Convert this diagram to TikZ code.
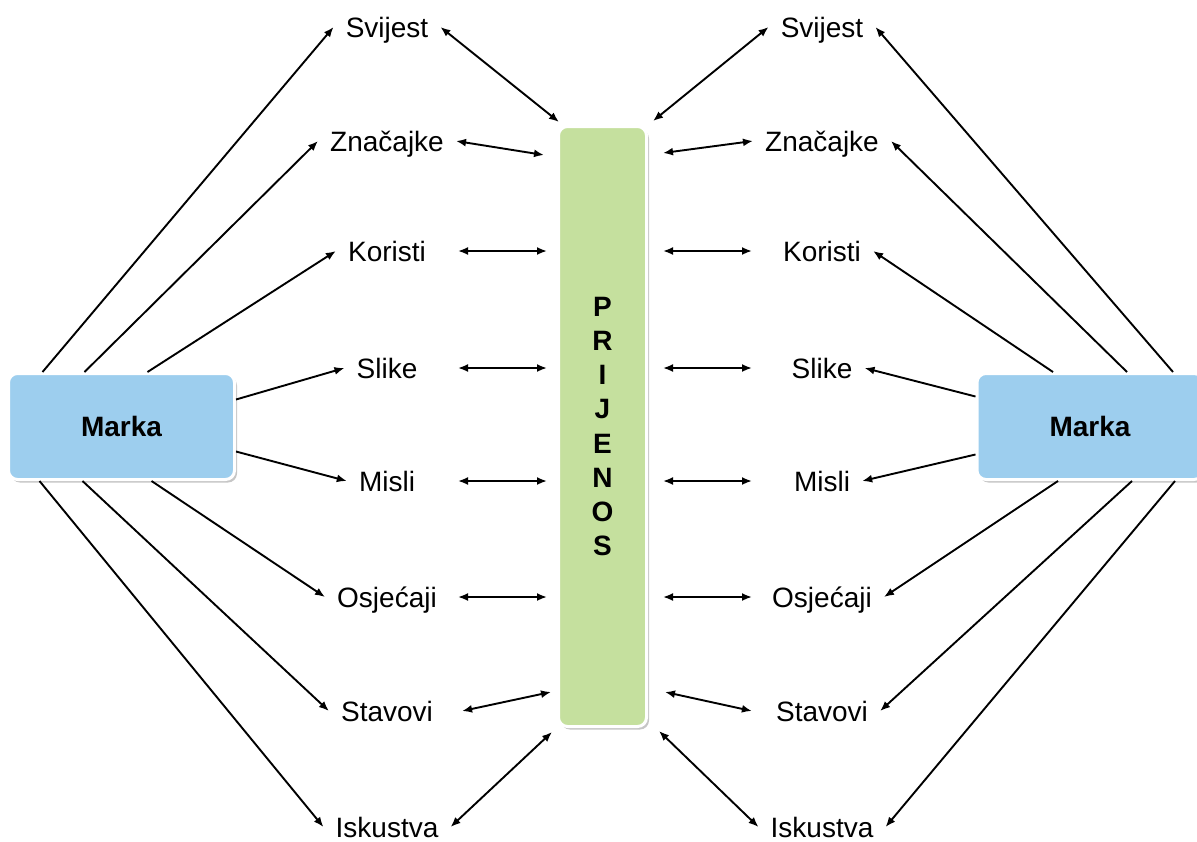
\documentclass[tikz,border=0pt]{standalone}
\usepackage{fontspec}
\setmainfont{Liberation Sans}
\usepackage{tikz}
\usetikzlibrary{arrows.meta,shadows}
\definecolor{markablue}{RGB}{157,206,238}
\definecolor{barsgreen}{RGB}{197,224,158}
\tikzset{brandbox/.style={draw=white,line width=3pt,fill=markablue,rounded corners=9pt,
        minimum width=226pt,minimum height=106pt,font=\fontsize{28}{34}\selectfont\bfseries,
        drop shadow={opacity=0.45,shadow xshift=2.5pt,shadow yshift=-3pt}},
    transferbar/.style={draw=white,line width=3pt,fill=barsgreen,rounded corners=9pt,
        minimum width=88pt,minimum height=600pt,outer sep=11.5pt,align=center,
        font=\fontsize{28}{34.1}\selectfont\bfseries,
        drop shadow={opacity=0.45,shadow xshift=2.5pt,shadow yshift=-3pt}},
    word/.style={font=\fontsize{28}{34}\selectfont,inner xsep=12pt,inner ysep=0pt,
        text height=20pt,text depth=0pt},
    link/.style={line width=1.9pt}
}
\begin{document}
\begin{tikzpicture}[x=1pt,y=-1pt,>={Latex[length=10pt,width=8pt]}]

\useasboundingbox (0,0) rectangle (1197,841);

\node (markaL) at (121.5,426.5) [brandbox] {Marka};
\node (markaR) at (1090,426.5) [brandbox] {Marka};
\node (bar) at (602.5,426.5) [transferbar] {P\\R\\I\\J\\E\\N\\O\\S};

\foreach \name/\txt/\y in {Sv/Svijest/27,Zn/Značajke/141,Ko/Koristi/251,Sl/Slike/368,
        Mi/Misli/481,Os/Osjećaji/597,St/Stavovi/711,Is/Iskustva/827}
{
    \node (l\name) [word] at (387,\y) {\txt};
    \node (r\name) [word] at (822,\y) {\txt};
}

% left brand

\draw [->,link] ([xshift=-79pt]markaL.north) -- (lSv.west);
\draw [->,link] ([xshift=-37pt]markaL.north) -- (lZn.west);
\draw [->,link] ([xshift=26pt]markaL.north) -- (lKo.west);
\draw [->,link] ([yshift=27pt]markaL.east) -- (lSl.west);
\draw [->,link] ([yshift=-25pt]markaL.east) -- (lMi.west);
\draw [->,link] ([xshift=30pt]markaL.south) -- (lOs.west);
\draw [->,link] ([xshift=-39pt]markaL.south) -- (lSt.west);
\draw [->,link] ([xshift=-82pt]markaL.south) -- (lIs.west);

% right brand

\draw [->,link] ([xshift=83pt]markaR.north) -- (rSv.east);
\draw [->,link] ([xshift=37pt]markaR.north) -- (rZn.east);
\draw [->,link] ([xshift=-37pt]markaR.north) -- (rKo.east);
\draw [->,link] ([yshift=30pt]markaR.west) -- (rSl.east);
\draw [->,link] ([yshift=-28pt]markaR.west) -- (rMi.east);
\draw [->,link] ([xshift=-32pt]markaR.south) -- (rOs.east);
\draw [->,link] ([xshift=42pt]markaR.south) -- (rSt.east);
\draw [->,link] ([xshift=85pt]markaR.south) -- (rIs.east);

% transfer

\draw [<->,link] (lSv.east) -- ([xshift=12pt,yshift=-7pt]bar.north west);
\draw [<->,link] (lZn.east) -- ([xshift=-3pt,yshift=-40pt]bar.north west);
\draw [<->,link] ([xshift=17pt]lSt.east) -- ([xshift=4pt,yshift=46pt]bar.south west);
\draw [<->,link] (lIs.east) -- ([xshift=5pt,yshift=6pt]bar.south west);

\draw [<->,link] ([xshift=-5pt,yshift=-6pt]bar.north east) -- (rSv.west);
\draw [<->,link] ([xshift=5pt,yshift=-38pt]bar.north east) -- (rZn.west);
\draw [<->,link] ([xshift=7pt,yshift=46pt]bar.south east) -- ([xshift=-12pt]rSt.west);
\draw [<->,link] ([xshift=1pt,yshift=7pt]bar.south east) -- (rIs.west);

\foreach \name in {Ko,Sl,Mi,Os}
{
    \draw [<->,link] ([xshift=-89pt]bar.west |- l\name) -- (bar.west |- l\name);
    \draw [<->,link] ([xshift=5pt]bar.east |- r\name) -- ([xshift=94pt]bar.east |- r\name);
}

\end{tikzpicture}
\end{document}
